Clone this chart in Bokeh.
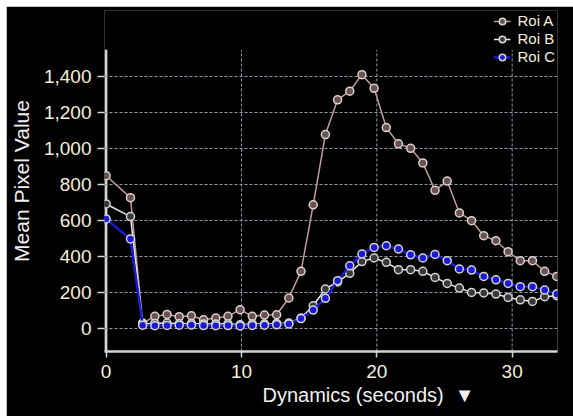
import math
from bokeh.plotting import figure
from bokeh.models import (Range1d, NumeralTickFormatter, FixedTicker, Legend, LegendItem,
                          Title, BoxAnnotation)
from bokeh.embed import file_html
from bokeh.resources import INLINE

times = [0.0, 1.8, 2.7, 3.6, 4.5, 5.4, 6.3, 7.2, 8.1, 9.0, 9.9, 10.8, 11.7, 12.6,
         13.5, 14.4, 15.3, 16.2, 17.1, 18.0, 18.9, 19.8, 20.7, 21.6, 22.5, 23.4,
         24.3, 25.2, 26.1, 27.0, 27.9, 28.8, 29.7, 30.6, 31.5, 32.4, 33.3]
roi_a = [848, 726, 30, 67, 78, 65, 70, 48, 58, 67, 104, 67, 74, 76, 169, 317, 686,
         1076, 1269, 1317, 1409, 1333, 1115, 1025, 1000, 919, 767, 818, 641, 598,
         515, 487, 426, 376, 376, 317, 289]
roi_b = [691, 621, 24, 28, 30, 26, 27, 24, 25, 26, 20, 25, 24, 28, 30, 58, 126,
         219, 258, 306, 371, 391, 367, 326, 326, 317, 283, 250, 224, 200, 197, 191,
         172, 159, 150, 176, 182]
roi_c = [608, 497, 18, 15, 17, 18, 19, 16, 15, 16, 14, 17, 18, 20, 25, 55, 102,
         167, 265, 348, 413, 450, 459, 441, 409, 391, 411, 376, 330, 324, 289, 270,
         250, 232, 232, 213, 191]
series_names = ["Roi A", "Roi B", "Roi C"]
x_ticks = [0, 10, 20, 30]
y_ticks = [0, 200, 400, 600, 800, 1000, 1200, 1400]
x_label = "Dynamics (seconds) \u00a0\u25bc"
y_label = "Mean Pixel Value"

FONT = "Liberation Sans"
TICK_COLOR = "#f4efd8"
AXIS_COLOR = "#d4d4d4"
GRID_COLOR = "#8b9bac"
X_LO, X_HI = -0.12, 33.35
Y_LO, Y_HI = -128, 1548      # visible plot area of the y axis
Y_TOP = 1765                 # extra head-room where the legend sits

p = figure(width=567, height=410, margin=(6, 0, 0, 6),
           output_backend="svg", toolbar_location=None,
           x_range=Range1d(X_LO, X_HI), y_range=Range1d(Y_LO, Y_TOP),
           background_fill_color="black", border_fill_color="black",
           min_border_left=98, min_border_right=16, min_border_top=4,
           min_border_bottom=65)
p.outline_line_color = None
p.title.visible = False

for ax in (p.xaxis[0], p.yaxis[0]):
    ax.axis_line_color = AXIS_COLOR
    ax.axis_line_width = 2.5
    ax.major_tick_line_color = AXIS_COLOR
    ax.major_tick_line_width = 1.5
    ax.major_tick_in = 0
    ax.minor_tick_line_color = None
    ax.major_label_text_color = TICK_COLOR
    ax.major_label_text_font = FONT
    ax.major_label_text_font_size = "19px"

p.yaxis.axis_line_color = None
p.yaxis.axis_line_alpha = 0
p.yaxis.bounds = (Y_LO, Y_HI)
p.xaxis.ticker = FixedTicker(ticks=x_ticks)
p.yaxis.ticker = FixedTicker(ticks=y_ticks)
p.yaxis.formatter = NumeralTickFormatter(format="0,0")
p.xaxis.major_tick_out = 6
p.yaxis.major_tick_out = 7
p.xaxis.major_label_standoff = 7
p.yaxis.major_label_standoff = 6
p.yaxis.axis_label = y_label
p.yaxis.axis_label_standoff = 8
p.yaxis.axis_label_text_color = "#f0f0f0"
p.yaxis.axis_label_text_font = FONT
p.yaxis.axis_label_text_font_size = "21px"
p.yaxis.axis_label_text_font_style = "normal"

p.xgrid.visible = False
p.ygrid.ticker = FixedTicker(ticks=y_ticks)
p.ygrid.grid_line_color = GRID_COLOR
p.ygrid.grid_line_width = 1
p.ygrid.grid_line_dash = "3 2"
# vertical grid lines, limited to the visible plot area
p.segment(x0=x_ticks, y0=[Y_LO] * len(x_ticks), x1=x_ticks, y1=[Y_HI] * len(x_ticks),
          line_color=GRID_COLOR, line_width=1, line_dash="3 2", level="underlay")
# y axis rule, limited to the visible plot area
p.segment(x0=[0], y0=[Y_LO], x1=[0], y1=[Y_HI], line_color=AXIS_COLOR,
          line_width=2.5, level="underlay")

styles = [
    (roi_a, "#c49a9a", 1.5, "#6e5050"),
    (roi_b, "#e6e6e6", 1.5, "#3a3a3a"),
    (roi_c, "#1a1ad6", 2.5, "#1a1ad6"),
]
items = []
for name, (vals, col, lw, fill) in zip(series_names, styles):
    r1 = p.line(times, vals, line_color=col, line_width=lw)
    r2 = p.scatter(times, vals, marker="circle", size=8, line_color=AXIS_COLOR,
                   line_width=1.5, fill_color=fill)
    items.append(LegendItem(label=name, renderers=[r1, r2]))

# head-room above the plot area stays plain black
p.add_layout(BoxAnnotation(bottom=Y_HI, fill_color="black", fill_alpha=1,
                           line_color=None))

lg = Legend(items=items, location="top_right")
lg.background_fill_alpha = 0
lg.border_line_alpha = 0
lg.label_text_color = TICK_COLOR
lg.label_text_font = FONT
lg.label_text_font_size = "15px"
lg.glyph_width = 17
lg.glyph_height = 16
lg.label_height = 16
lg.label_standoff = 7
lg.spacing = 1
lg.padding = 0
lg.margin = 2
p.add_layout(lg)

xt = Title(text=x_label, align="left", offset=158, text_color="#f0f0f0",
           text_font=FONT, text_font_size="20px", text_font_style="normal",
           standoff=2)
p.add_layout(xt, "below")

open("out.html", "w").write(file_html(p, INLINE))
